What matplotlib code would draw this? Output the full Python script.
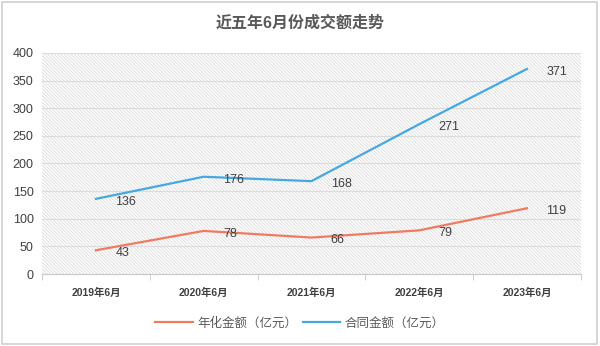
import matplotlib
matplotlib.use('Agg')
import matplotlib.pyplot as plt
from matplotlib.patches import Rectangle

plt.rcParams['font.family'] = ['Liberation Sans', 'Noto Sans CJK SC', 'DejaVu Sans']
plt.rcParams['hatch.color'] = '#d4d4d4'
plt.rcParams['hatch.linewidth'] = 0.5

months = ['2019年6月', '2020年6月', '2021年6月', '2022年6月', '2023年6月']
annualized = [43, 78, 66, 79, 119]
contract = [136, 176, 168, 271, 371]
y_ticks = [0, 50, 100, 150, 200, 250, 300, 350, 400]

fig = plt.figure(figsize=(6, 3.46), dpi=100)
ax = fig.add_axes([0.07, 0.208, 0.898, 0.639])

# hatched plot background
ax.add_patch(Rectangle((0, 0), 1, 1, transform=ax.transAxes, facecolor='white',
                       hatch='\\' * 10, edgecolor='#d4d4d4', linewidth=0, zorder=0))

x = list(range(len(months)))
ax.plot(x, annualized, color='#F07A62', linewidth=1.6, label='年化金额（亿元）', zorder=3)
ax.plot(x, contract, color='#45A9DF', linewidth=1.6, label='合同金额（亿元）', zorder=3)

for i in x:
    ax.annotate(str(annualized[i]), (i, annualized[i]), xytext=(14, -2), textcoords='offset points',
                ha='left', va='center', fontsize=9, color='#404040', zorder=4)
    ax.annotate(str(contract[i]), (i, contract[i]), xytext=(14, -2), textcoords='offset points',
                ha='left', va='center', fontsize=9, color='#404040', zorder=4)

ax.set_xlim(-0.5, 4.5)
ax.set_ylim(0, 400)
ax.set_yticks(y_ticks)
ax.yaxis.grid(True, color='#dcdcdc', linewidth=0.8, zorder=1)
ax.set_axisbelow(True)
ax.set_xticks(x)
ax.set_xticklabels(months, fontsize=7.5, color='#404040', fontweight='bold')
ax.set_xticks([-0.5, 0.5, 1.5, 2.5, 3.5, 4.5], minor=True)
ax.tick_params(axis='x', which='major', length=0, pad=10)
ax.tick_params(axis='x', which='minor', length=4, color='#c8c8c8', direction='out')
ax.tick_params(axis='y', length=0, labelsize=9, labelcolor='#404040', pad=6)
for s in ['top', 'right', 'left']:
    ax.spines[s].set_visible(False)
ax.spines['bottom'].set_color('#c8c8c8')

fig.text(0.5, 0.935, '近五年6月份成交额走势', ha='center', va='center', fontsize=11.5,
         fontweight='bold', color='#595959')

fig.legend(loc='center', bbox_to_anchor=(0.5, 0.066), ncol=2, frameon=False, fontsize=9,
           handlelength=3.0, columnspacing=0.4, handletextpad=0.4, labelcolor='#595959')

fig.patches.append(Rectangle((0.003, 0.005), 0.992, 0.99, transform=fig.transFigure,
                             fill=False, edgecolor='#d0d0d0', linewidth=1.2))

fig.savefig('out.png', dpi=100)
